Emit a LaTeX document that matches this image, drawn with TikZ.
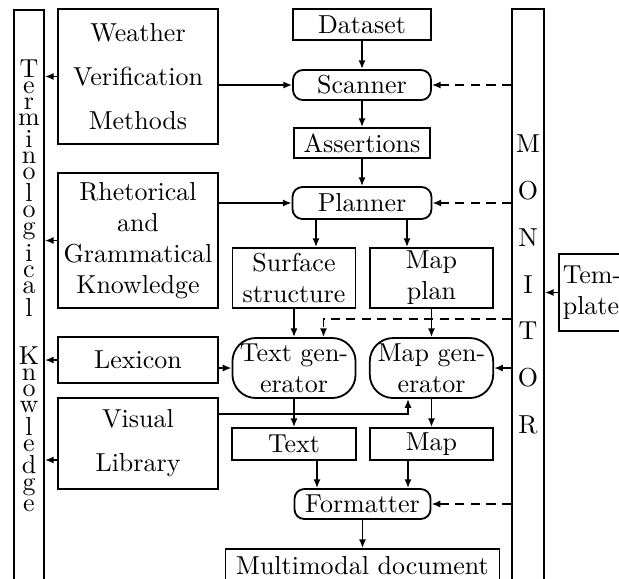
\documentclass[tikz,border=0pt]{standalone}
\usetikzlibrary{arrows.meta,calc}
\newcommand\vstack[1]{\vbox{\baselineskip=-1000pt\lineskip=1.7pt\lineskiplimit=0pt\halign{\hfil##\hfil\cr#1\crcr}}}
\begin{document}
\begin{tikzpicture}[x=0.385pt,y=-0.385pt, line width=0.7pt,
  box/.style={draw, inner sep=0pt, align=center},
  rbox/.style={box, rounded corners=3.8pt},
  gbox/.style={box, rounded corners=9pt},
  arr/.style={-{Latex[length=3.4pt,width=2.8pt]}},
  dsh/.style={arr, dash pattern=on 3.5pt off 2.5pt}]
\useasboundingbox (0,0) rectangle (619,578);
\clip (0,0) rectangle (619,578);
% side bars
\node[draw, minimum width=11.55pt, minimum height=227pt, inner sep=0pt] (term) at (29,305) {};
\node[draw, minimum width=12.3pt, minimum height=227.5pt, inner sep=0pt] (monitor) at (528,304.5) {};
\node[inner sep=0pt] (termtxt) at (29,286) {\vstack{T\cr e\cr r\cr m\cr i\cr n\cr o\cr l\cr o\cr g\cr i\cr c\cr a\cr l\cr\noalign{\vskip 10pt}K\cr n\cr o\cr w\cr l\cr e\cr d\cr g\cr e}};
\node[align=center, inner sep=0pt] (montxt) at (528,284.5) {M\\[6pt]O\\[6pt]N\\[6pt]I\\[6pt]T\\[6pt]O\\[6pt]R};
% left knowledge boxes
\node[box, minimum width=61.6pt, minimum height=52pt] (wvm) at (138,76.5) {Weather\\[5pt]Verification\\[5pt]Methods};
\node[box, minimum width=61.6pt, minimum height=52pt] (rgk) at (138,240.5) {Rhetorical\\and\\Grammatical\\Knowledge};
\node[box, minimum width=61.6pt, minimum height=17.7pt] (lexicon) at (138,360) {Lexicon};
\node[box, minimum width=61.6pt, minimum height=35pt] (visual) at (138,443.5) {Visual\\[5pt]Library};
% main flow
\node[box, minimum width=53.1pt, minimum height=11.9pt] (dataset) at (362,24.5) {Dataset};
\node[rbox, minimum width=53.1pt, minimum height=11.55pt] (scanner) at (362,85) {Scanner};
\node[box, minimum width=52.4pt, minimum height=11.55pt] (assert) at (362,143) {Assertions};
\node[rbox, minimum width=53.5pt, minimum height=12.3pt] (planner) at (362,203) {Planner};
\node[box, minimum width=47.4pt, minimum height=23.1pt] (surface) at (294,278) {Surface\\structure};
\node[box, minimum width=47.5pt, minimum height=23.1pt] (mapplan) at (431.5,278) {Map\\plan};
\node[gbox, minimum width=47.4pt, minimum height=23.1pt] (textgen) at (294,368) {Text gen-\\erator};
\node[gbox, minimum width=47.5pt, minimum height=23.1pt] (mapgen) at (431.5,368) {Map gen-\\erator};
\node[box, minimum width=47.7pt, minimum height=12.3pt] (text) at (294,444) {Text};
\node[box, minimum width=47.5pt, minimum height=12.3pt] (map) at (431.5,444) {Map};
\node[rbox, minimum width=52.4pt, minimum height=11.55pt] (formatter) at (362.5,504) {Formatter};
\node[box, minimum width=105.5pt, minimum height=13.1pt] (multi) at (362.5,566) {Multimodal document};
\node[box, anchor=west, minimum height=29.6pt, text width=28pt, align=left, inner xsep=1.5pt] (template) at (558,292.5) {Tem-\\plate};
% arrows to terminological knowledge
\coordinate (vl) at ($(visual.west)+(0,16.5)$);
\draw[arr] (wvm.west) -- (wvm.west -| term.east);
\draw[arr] (rgk.west) -- (rgk.west -| term.east);
\draw[arr] (lexicon.west) -- (lexicon.west -| term.east);
\draw[arr] (vl) -- (vl -| term.east);
% main arrows
\draw[arr] (dataset) -- (scanner);
\draw[arr] (wvm.east |- scanner.west) -- (scanner.west);
\draw[arr] (scanner) -- (assert);
\draw[arr] (assert) -- (planner);
\draw[arr] (rgk.east |- planner.west) -- (planner.west);
\coordinate (ps1) at ($(planner.south)+(-46,0)$);
\coordinate (ps2) at ($(planner.south)+(45,0)$);
\draw[arr] (ps1) -- (ps1 |- surface.north);
\draw[arr] (ps2) -- (ps2 |- mapplan.north);
\draw[arr] (surface) -- (textgen);
\draw[arr] (mapplan) -- (mapgen);
\draw[arr] (lexicon.east |- textgen.west) -- (textgen.west);
\draw[arr] (textgen) -- (text);
\draw[arr] (mapgen) -- (map);
\coordinate (vr) at ($(visual.north east)+(0,17)$);
\coordinate (mg) at ($(mapgen.south)+(-23.5,0)$);
\draw[arr] (vr) -| (mg);
\coordinate (f1) at ($(formatter.north)+(-45.5,0)$);
\coordinate (f2) at ($(formatter.north)+(45.5,0)$);
\draw[arr] (f1 |- text.south) -- (f1);
\draw[arr] (f2 |- map.south) -- (f2);
\draw[arr] (formatter) -- (multi);
% monitor dashed
\draw[dsh] (monitor.west |- scanner.east) -- (scanner.east);
\draw[dsh] (monitor.west |- planner.east) -- (planner.east);
\draw[dsh] (monitor.west |- mapgen.east) -- (mapgen.east);
\draw[dsh] (monitor.west |- formatter.east) -- (formatter.east);
\coordinate (dl) at ($(mapplan.south)+(0,10)$);
\coordinate (tg) at ($(textgen.north)+(29.5,0)$);
\draw[dsh] (monitor.west |- dl) -| (tg);
% template
\draw[arr] (template.west) -- (template.west -| monitor.east);
\end{tikzpicture}
\end{document}
